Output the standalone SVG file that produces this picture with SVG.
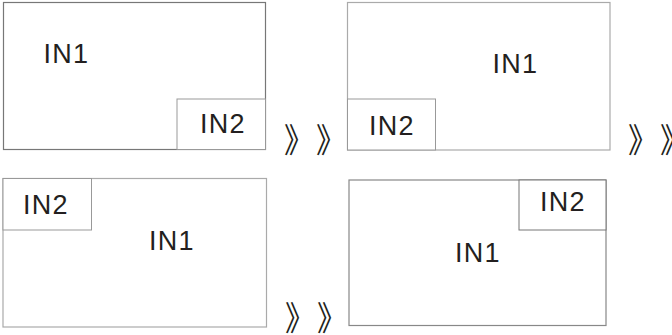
<svg xmlns="http://www.w3.org/2000/svg" width="672" height="335" viewBox="0 0 672 335">
<style>
.outer{fill:#fff;stroke:#777;stroke-width:1.2}
.inner{fill:#fff;stroke:#999;stroke-width:1}
.lbl{font-family:"Liberation Sans",Arial,sans-serif;font-size:27px;fill:#231f20;letter-spacing:1.2px}
.chev{font-family:"Noto Sans CJK SC",sans-serif;font-size:30px;fill:#231f20}
</style>
<rect width="672" height="335" fill="#fff"/>
<g id="panel1">
<rect class="outer" x="3.5" y="2.5" width="262" height="147"/>
<rect class="inner" x="177" y="99" width="88.5" height="50.5"/>
<text class="lbl" x="43.5" y="63">IN1</text>
<text class="lbl" x="200" y="133">IN2</text>
</g>
<g id="panel2">
<rect class="outer" x="347.5" y="2.5" width="262.5" height="147.5" style="stroke:#aaa"/>
<rect class="inner" x="347.5" y="99" width="88" height="51"/>
<text class="lbl" x="492.5" y="73">IN1</text>
<text class="lbl" x="369" y="135">IN2</text>
</g>
<g id="panel3">
<rect class="outer" x="3" y="178.5" width="263.5" height="148.5" style="stroke:#aaa"/>
<rect class="inner" x="3" y="178.5" width="88.5" height="51.5"/>
<text class="lbl" x="23" y="214">IN2</text>
<text class="lbl" x="149" y="250">IN1</text>
</g>
<g id="panel4">
<rect class="outer" x="349" y="180" width="257" height="145.5" style="stroke:#888"/>
<rect class="inner" x="519" y="180" width="87" height="50" style="stroke:#777"/>
<text class="lbl" x="540" y="211">IN2</text>
<text class="lbl" x="455" y="262">IN1</text>
</g>
<g id="connectors">
<text class="chev" transform="translate(284,140) scale(1,1.12)" y="12">》</text>
<text class="chev" transform="translate(316,140) scale(1,1.12)" y="12">》</text>
<text class="chev" transform="translate(628,140) scale(1,1.12)" y="12">》</text>
<text class="chev" transform="translate(660,140) scale(1,1.12)" y="12">》</text>
<text class="chev" transform="translate(285,318) scale(1,1.12)" y="12">》</text>
<text class="chev" transform="translate(317,318) scale(1,1.12)" y="12">》</text>
</g>
</svg>
